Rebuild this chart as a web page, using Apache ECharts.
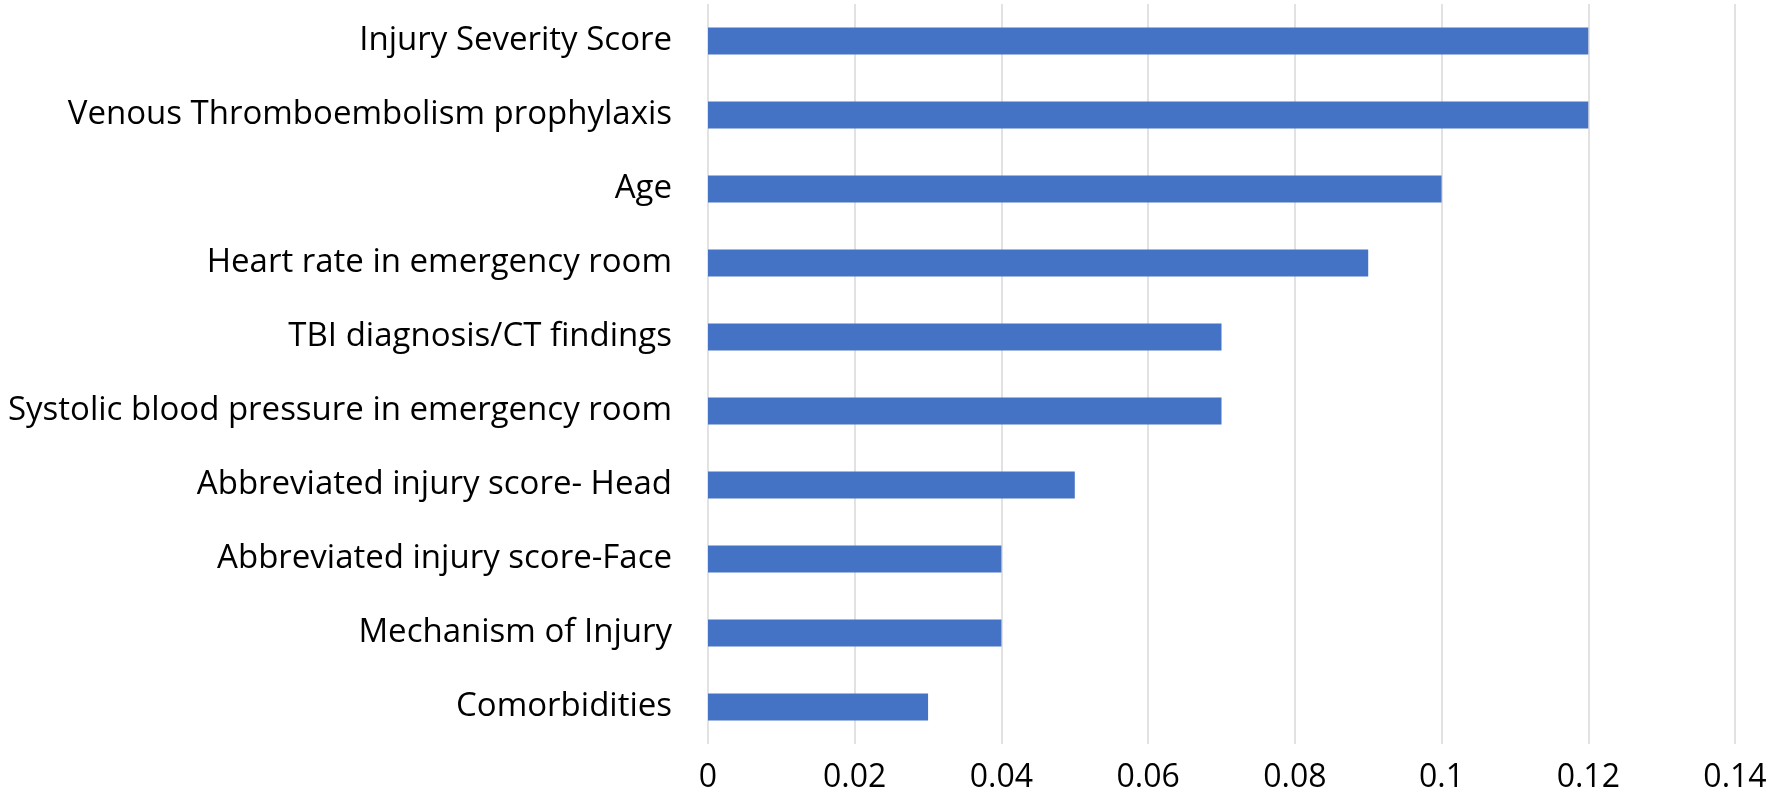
<!DOCTYPE html>
<html>
<head>
<meta charset="utf-8">
<script src="https://cdn.jsdelivr.net/npm/echarts@6/dist/echarts.min.js"></script>
<style>html,body{margin:0;padding:0;background:#fff}#c{width:1770px;height:809px}</style>
</head>
<body>
<div id="c"></div>
<script>
const categories = ["Injury Severity Score","Venous Thromboembolism prophylaxis","Age","Heart rate in emergency room","TBI diagnosis/CT findings","Systolic blood pressure in emergency room","Abbreviated injury score- Head","Abbreviated injury score-Face","Mechanism of Injury","Comorbidities"];
const values = [0.12,0.12,0.10,0.09,0.07,0.07,0.05,0.04,0.04,0.03];
const xMin = 0, xMax = 0.14, xStep = 0.02;

const chart = echarts.init(document.getElementById('c'));
chart.setOption({
  animation:false,
  grid:{left:708,right:35,top:4,bottom:65,containLabel:false},
  xAxis:{type:'value',min:xMin,max:xMax,interval:xStep,
    axisLine:{show:false},axisTick:{show:false},
    splitLine:{show:true,lineStyle:{color:'#d9d9d9',width:1.5}},
    axisLabel:{color:'#000',fontFamily:'Open Sans',fontSize:32,margin:18,
      formatter:v=>String(+v.toFixed(2))}},
  yAxis:{type:'category',data:categories,inverse:true,
    axisLine:{show:false},axisTick:{show:false},
    axisLabel:{color:'#000',fontFamily:'Open Sans',fontSize:33,margin:36}},
  series:[{type:'bar',data:values,barWidth:27,itemStyle:{color:'#4472C4'}}]
});
</script>
</body>
</html>
